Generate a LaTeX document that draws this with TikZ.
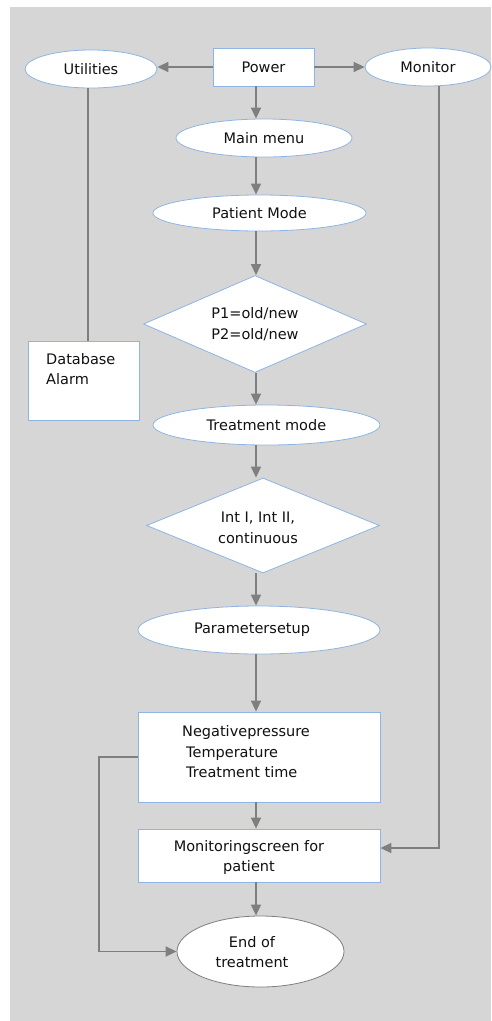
\documentclass[tikz,border=0pt]{standalone}
\usepackage{fontspec}
\setmainfont{DejaVu Sans}
\usetikzlibrary{shapes.geometric,arrows.meta}
\definecolor{bg}{HTML}{D6D6D6}
\definecolor{bl}{HTML}{8EB4E3}
\definecolor{ag}{HTML}{7F7F7F}
\definecolor{tk}{HTML}{111111}
\begin{document}
\begin{tikzpicture}[x=1pt,y=-1pt,
  font=\fontsize{14.5}{20.5}\selectfont,
  every node/.style={text=tk},
  ell/.style={ellipse, draw=bl, fill=white, line width=0.8pt, inner sep=0pt, align=center},
  box/.style={rectangle, draw=bl, fill=white, line width=0.8pt, inner sep=0pt, align=center},
  dia/.style={diamond, draw=bl, fill=white, line width=0.8pt, inner sep=0pt, shape aspect=2.3, align=center},
  txt/.style={inner sep=0pt},
  arr/.style={draw=ag, line width=1.4pt, -{Triangle[length=11pt,width=10pt]}},
  ln/.style={draw=ag, line width=1.3pt}]
\useasboundingbox (0,0) rectangle (491,1021);
\fill[bg] (10,7) rectangle (491,1021);

\node[ell, minimum width=132pt, minimum height=38pt] (util) at (91,69) {Utilities};
\node[box, minimum width=101pt, minimum height=38pt] (power) at (263.5,67) {Power};
\node[ell, minimum width=126pt, minimum height=38pt] (mon) at (428,67) {Monitor};
\node[ell, minimum width=176pt, minimum height=38pt] (main) at (264,138) {Main menu};
\node[ell, minimum width=213pt, minimum height=36pt] (pat) at (259.5,213) {Patient Mode};
\node[dia, minimum width=223pt, minimum height=97pt] (d1) at (255,324) {P1=old/new\\P2=old/new};
\node[box, minimum width=111pt, minimum height=79pt] (db) at (83.5,380.5) {};
\node[txt, anchor=west, align=left] (dbt) at (46,369) {Database\\Alarm};
\node[ell, minimum width=227pt, minimum height=40pt] (treat) at (266.5,425) {Treatment mode};
\node[dia, minimum width=233pt, minimum height=95pt] (d2) at (263,525.5) {};
\node[txt, align=center] (d2t) at (258,528) {Int I, Int II,\\continuous};
\node[ell, minimum width=242pt, minimum height=48pt] (par) at (259,630) {};
\node[txt] (part) at (252,630) {Parametersetup};
\node[box, minimum width=242pt, minimum height=90pt] (neg) at (259,757) {};
\node[txt, anchor=west, align=left] (negt) at (182,752) {Negativepressure\\\hspace{4pt}Temperature\\\hspace{4pt}Treatment time};
\node[box, minimum width=242pt, minimum height=53pt] (ms) at (259,855.5) {};
\node[txt, align=center] (mst) at (249,857.5) {Monitoringscreen for\\patient};
\node[ell, draw=ag, minimum width=167pt, minimum height=71pt] (endt) at (260.5,951.5) {};
\node[txt, align=center] (endtt) at (252,952) {End of\\treatment};

\coordinate (tx) at (256,0);
\coordinate (dbx) at (88,0);
\coordinate (mc) at (439,848);
\coordinate (lc) at (99,757);

\draw[arr] (power.west) -- (power.west -| util.east);
\draw[arr] (power.east) -- (power.east -| mon.west);
\draw[arr] (power.south -| tx) -- (main.north -| tx);
\draw[arr] (main.south -| tx) -- (pat.north -| tx);
\draw[arr] (pat.south -| tx) -- (d1.north -| tx);
\draw[ln] (util.south -| dbx) -- (db.north -| dbx);
\draw[arr] (d1.south -| tx) -- (treat.north -| tx);
\draw[arr] (treat.south -| tx) -- (d2.north -| tx);
\draw[arr] (d2.south -| tx) -- (par.north -| tx);
\draw[arr] (par.south -| tx) -- (neg.north -| tx);
\draw[arr] (neg.south -| tx) -- (ms.north -| tx);
\draw[arr] (ms.south -| tx) -- (endt.north -| tx);
\draw[arr] (mon.south -| mc) -- (mc) -- (mc -| ms.east);
\draw[arr] (neg.west) -- (lc) |- (endt.west);
\end{tikzpicture}
\end{document}
